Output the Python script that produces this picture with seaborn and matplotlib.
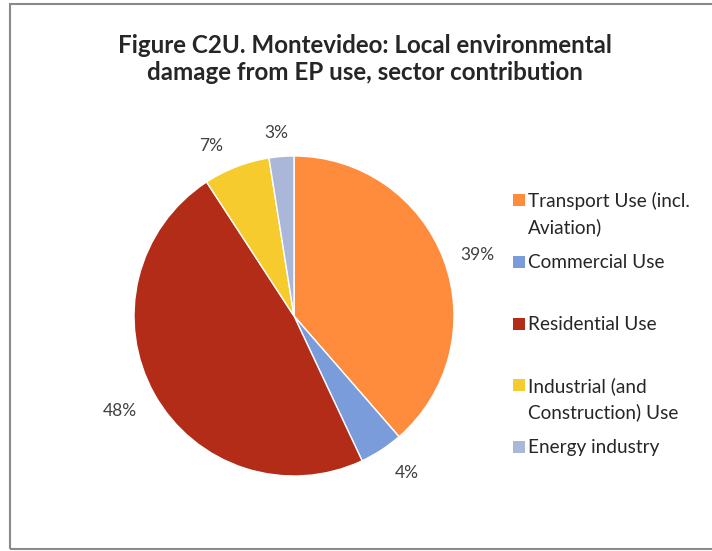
import numpy as np
import matplotlib
matplotlib.use("Agg")
import matplotlib.pyplot as plt
from matplotlib.patches import Rectangle
import seaborn as sns

# Sector shares (%)
sectors = ["Transport Use (incl.\nAviation)", "Commercial Use", "Residential Use",
           "Industrial (and\nConstruction) Use", "Energy industry"]
shares = [38.6, 4.4, 47.8, 6.7, 2.5]
pct_labels = ["39%", "4%", "48%", "7%", "3%"]
colors = ["#FF8B3D", "#7B9CDB", "#B22C17", "#F5CB2E", "#ABB7D9"]

sns.set_theme(style="white")
plt.rcParams['font.family'] = ['Lato', 'DejaVu Sans']

W, H = 712, 551
fig = plt.figure(figsize=(W / 100, H / 100), dpi=100)
fig.patch.set_facecolor("white")

# outer chart border
fig.patches.append(Rectangle((10 / W, 2 / H), 1.0, (H - 6) / H, transform=fig.transFigure,
                             fill=False, edgecolor="#8a8a8a", linewidth=1.5))

fig.text(365 / W, 1 - 59 / H,
         "Figure C2U. Montevideo: Local environmental\ndamage from EP use, sector contribution",
         ha="center", va="center", fontsize=17.4, fontweight="bold", linespacing=1.2)

# pie, centre (294, 316) px, radius 160 px
cx, cy, r = 294, 316, 160
ax = fig.add_axes([(cx - r) / W, 1 - (cy + r) / H, 2 * r / W, 2 * r / H])
pal = sns.color_palette(colors)
wedges, _ = ax.pie(shares, colors=pal, startangle=90, counterclock=False,
                   wedgeprops=dict(edgecolor="white", linewidth=1))
ax.set_xlim(-1, 1)
ax.set_ylim(-1, 1)
ax.set_aspect("equal")

# percentage labels outside the wedges
cum = np.cumsum([0] + shares)
dists = [1.21, 1.21, 1.24, 1.18, 1.15]
shift = [2, -2.5, 0.5, -5, -1]  # small angular nudges (degrees)
for i, lab in enumerate(pct_labels):
    mid = np.deg2rad((cum[i] + cum[i + 1]) / 2 / sum(shares) * 360 + shift[i])
    x = dists[i] * np.sin(mid)
    y = dists[i] * np.cos(mid)
    ax.text(x, y, lab, ha="center", va="center", fontsize=12.5, color="#404040",
            clip_on=False)

# legend
leg_y = [200, 262, 324, 385, 447]
for i, lab in enumerate(sectors):
    fig.patches.append(Rectangle((513 / W, 1 - (leg_y[i] + 6) / H), 12 / W, 12 / H,
                                 transform=fig.transFigure, facecolor=pal[i],
                                 edgecolor="none"))
    fig.text(528 / W, 1 - (leg_y[i] - 8) / H, lab, ha="left", va="top",
             fontsize=13.7, color="#262626", linespacing=1.55)

fig.savefig("out.png", dpi=100)
